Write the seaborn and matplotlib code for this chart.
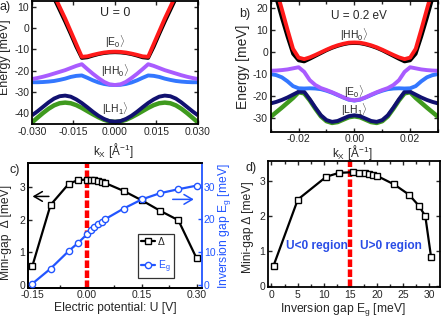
import matplotlib
matplotlib.use("Agg")
import matplotlib.pyplot as plt
import seaborn as sns
from matplotlib.lines import Line2D
from matplotlib.ticker import MultipleLocator

# ---- data ----
# band structure grid (1/Angstrom)
k = [-0.030, -0.028, -0.026, -0.024, -0.022, -0.020, -0.018, -0.016, -0.014, -0.012,
     -0.010, -0.008, -0.006, -0.004, -0.002, 0.000, 0.002, 0.004, 0.006, 0.008,
     0.010, 0.012, 0.014, 0.016, 0.018, 0.020, 0.022, 0.024, 0.026, 0.028, 0.030]

# a) U = 0
red_a = [39.0, 33.0, 27.0, 21.0, 15.5, 10.0, 4.5, -1.5, -7.5, -13.5, -13.3, -12.6, -12.0, -11.5, -11.2, -11.1,
         -11.2, -11.5, -12.0, -12.6, -13.3, -13.5, -7.5, -1.5, 4.5, 10.0, 15.5, 21.0, 27.0, 33.0, 39.0]
black_a = [38.0, 32.0, 26.0, 20.0, 14.0, 8.5, 3.0, -2.8, -8.8, -14.1, -13.8, -13.0, -12.3, -11.8, -11.5, -11.4,
           -11.5, -11.8, -12.3, -13.0, -13.8, -14.1, -8.8, -2.8, 3.0, 8.5, 14.0, 20.0, 26.0, 32.0, 38.0]
purple_a = [-24.0, -23.5, -22.9, -22.2, -21.4, -20.6, -19.8, -18.8, -17.8, -17.0, -19.3, -21.5, -23.5, -25.3, -26.5, -26.8,
            -26.5, -25.3, -23.5, -21.5, -19.3, -17.0, -17.8, -18.8, -19.8, -20.6, -21.4, -22.2, -22.9, -23.5, -24.0]
blue_a = [-25.5, -25.5, -25.4, -25.2, -24.9, -24.4, -23.8, -23.0, -22.5, -22.3, -23.4, -24.6, -25.6, -26.3, -26.7, -26.8,
          -26.7, -26.3, -25.6, -24.6, -23.4, -22.3, -22.5, -23.0, -23.8, -24.4, -24.9, -25.2, -25.4, -25.5, -25.5]
navy_a = [-41.1, -39.2, -37.1, -35.0, -33.2, -32.1, -31.8, -32.3, -33.6, -35.3, -37.3, -39.4, -41.3, -42.8, -43.8, -44.1,
          -43.8, -42.8, -41.3, -39.4, -37.3, -35.3, -33.6, -32.3, -31.8, -32.1, -33.2, -35.0, -37.1, -39.2, -41.1]
green_a = [-44.5, -42.2, -40.0, -38.0, -36.4, -35.4, -35.1, -35.4, -36.3, -37.6, -39.1, -40.6, -42.0, -43.2, -44.0, -44.2,
           -44.0, -43.2, -42.0, -40.6, -39.1, -37.6, -36.3, -35.4, -35.1, -35.4, -36.4, -38.0, -40.0, -42.2, -44.5]

# b) U = 0.2 eV
red_b = [37.0, 28.5, 19.5, 10.3, 1.5, -2.5, -3.2, -2.4, -1.3, -0.1, 1.1, 2.2, 3.1, 3.8, 4.3, 4.4,
         4.3, 3.8, 3.1, 2.2, 1.1, -0.1, -1.3, -2.4, -3.2, -2.5, 1.5, 10.3, 19.5, 28.5, 37.0]
black_b = [33.0, 24.5, 15.5, 7.0, -0.8, -3.8, -4.3, -3.1, -1.8, -0.5, 0.8, 1.9, 2.8, 3.5, 4.0, 4.1,
           4.0, 3.5, 2.8, 1.9, 0.8, -0.5, -1.8, -3.1, -4.3, -3.8, -0.8, 7.0, 15.5, 24.5, 33.0]
purple_b = [-8.5, -8.4, -8.2, -7.9, -7.4, -6.9, -9.0, -12.8, -15.0, -16.4, -17.3, -18.3, -19.4, -20.6, -21.6, -22.0,
            -21.6, -20.6, -19.4, -18.3, -17.3, -16.4, -15.0, -12.8, -9.0, -6.9, -7.4, -7.9, -8.2, -8.4, -8.5]
blue_b = [-10.0, -10.5, -11.5, -13.3, -15.5, -16.5, -16.6, -16.5, -16.6, -16.9, -17.6, -18.5, -19.6, -20.7, -21.7, -22.1,
          -21.7, -20.7, -19.6, -18.5, -17.6, -16.9, -16.6, -16.5, -16.6, -16.5, -15.5, -13.3, -11.5, -10.5, -10.0]
navy_b = [-23.4, -22.7, -21.8, -20.7, -19.4, -18.1, -18.1, -21.5, -25.3, -28.8, -31.0, -31.8, -31.4, -30.3, -29.2, -28.8,
          -29.2, -30.3, -31.4, -31.8, -31.0, -28.8, -25.3, -21.5, -18.1, -18.1, -19.4, -20.7, -21.8, -22.7, -23.4]
green_b = [-29.5, -27.4, -25.3, -23.1, -20.9, -18.3, -18.8, -22.0, -25.8, -29.3, -31.5, -32.3, -31.9, -30.8, -29.7, -29.3,
           -29.7, -30.8, -31.9, -32.3, -31.5, -29.3, -25.8, -22.0, -18.8, -18.3, -20.9, -23.1, -25.3, -27.4, -29.5]

# c) / d) mini-gap and inversion gap vs electric potential
U = [-0.15, -0.10, -0.05, -0.025, 0.0, 0.01, 0.02, 0.03, 0.04, 0.05, 0.10, 0.15, 0.20, 0.25, 0.30]
delta = [0.58, 2.46, 3.11, 3.22, 3.24, 3.23, 3.21, 3.19, 3.16, 3.13, 2.89, 2.60, 2.28, 1.99, 0.82]
Eg = [0.4, 5.0, 10.4, 12.8, 15.5, 16.7, 17.7, 18.5, 19.3, 20.1, 23.3, 26.1, 28.0, 29.2, 30.3]

c_ticks = [-0.15, 0.0, 0.15, 0.30]
c_ticklabels = ["-0.15", "0.00", "0.15", "0.30"]
a_ticks = [-0.030, -0.015, 0.0, 0.015, 0.030]
a_ticklabels = ["-0.030", "-0.015", "0.000", "0.015", "0.030"]
b_ticks = [-0.02, 0.0, 0.02]
b_ticklabels = ["-0.02", "0.00", "0.02"]

# ---- style ----
sns.set_style("ticks")
plt.rcParams["font.family"] = ["Liberation Sans", "DejaVu Sans"]
plt.rcParams["mathtext.fontset"] = "custom"
plt.rcParams["mathtext.rm"] = "Liberation Sans"
plt.rcParams["mathtext.it"] = "Liberation Sans:italic"
plt.rcParams["mathtext.fallback"] = "cm"
plt.rcParams["axes.unicode_minus"] = False

RED = "#ff1a1a"
PURPLE = "#a95cff"
BLUE = "#3377ff"
NAVY = "#111170"
GREEN = "#3f9a1e"
BLUE_C = "#2255ff"
TXT_BLUE = "#2a4de6"

KX_LABEL = r"k$_\mathregular{X}$ [Å$^{-1}$]"


def ket(name, idx):
    return r"$\mathregular{|%s_%s}\rangle$" % (name, idx)


def style(ax, top=True, right=True):
    for s in ax.spines.values():
        s.set_linewidth(1.3)
        s.set_color("black")
    ax.tick_params(direction="in", which="both", top=top, right=right,
                   labelsize=7.5, width=1, pad=2)
    ax.tick_params(which="major", length=3)
    ax.tick_params(which="minor", length=2)


fig = plt.figure(figsize=(4.43, 3.17), dpi=100)

ax_a = fig.add_axes([0.0722, 0.6088, 0.3747, 0.3880])
ax_b = fig.add_axes([0.6111, 0.5845, 0.3777, 0.4123])
ax_c = fig.add_axes([0.0639, 0.0924, 0.3914, 0.3924])
ax_d = fig.add_axes([0.6050, 0.0937, 0.3883, 0.3975])

# ---- a) ----
bands_a = [(green_a, GREEN, 3.2), (navy_a, NAVY, 2.8), (blue_a, BLUE, 2.8),
           (purple_a, PURPLE, 2.8), (black_a, "black", 2.6), (red_a, RED, 2.8)]
for vals, col, lw in bands_a:
    sns.lineplot(x=k, y=vals, ax=ax_a, color=col, lw=lw, sort=False,
                 errorbar=None, solid_joinstyle="round", solid_capstyle="butt")
ax_a.set_xlim(-0.030, 0.030)
ax_a.set_ylim(-45.2, 12.8)
ax_a.set_xticks(a_ticks)
ax_a.set_xticklabels(a_ticklabels)
ax_a.set_yticks([-40, -30, -20, -10, 0, 10])
style(ax_a)
ax_a.set_xlabel(KX_LABEL, fontsize=8.5)
ax_a.xaxis.set_label_coords(0.488, -0.138)
ax_a.set_ylabel("Energy [meV]", fontsize=9)
ax_a.yaxis.set_label_coords(-0.1235, 0.545)
ax_a.text(0.0, 7.2, "U = 0", ha="center", va="center", fontsize=9)
ax_a.text(0.0, -6.4, ket("E", "0"), ha="center", va="center", fontsize=7.5)
ax_a.text(0.0, -20.2, ket("HH", "0"), ha="center", va="center", fontsize=7.5)
ax_a.text(0.0, -38.1, ket("LH", "1"), ha="center", va="center", fontsize=7.5)

# ---- b) ----
bands_b = [(green_b, GREEN, 3.2), (navy_b, NAVY, 2.8), (blue_b, BLUE, 2.8),
           (purple_b, PURPLE, 2.8), (black_b, "black", 2.6), (red_b, RED, 2.8)]
for vals, col, lw in bands_b:
    sns.lineplot(x=k, y=vals, ax=ax_b, color=col, lw=lw, sort=False,
                 errorbar=None, solid_joinstyle="round", solid_capstyle="butt")
ax_b.set_xlim(-0.030, 0.030)
ax_b.set_ylim(-36.3, 23.3)
ax_b.set_xticks(b_ticks)
ax_b.set_xticklabels(b_ticklabels)
ax_b.xaxis.set_minor_locator(MultipleLocator(0.01))
ax_b.set_yticks([-30, -20, -10, 0, 10, 20])
style(ax_b)
ax_b.set_xlabel(KX_LABEL, fontsize=8.5)
ax_b.xaxis.set_label_coords(0.49, -0.086)
ax_b.set_ylabel("Energy [meV]", fontsize=10)
ax_b.yaxis.set_label_coords(-0.124, 0.497)
ax_b.text(0.0017, 16.5, "U = 0.2 eV", ha="center", va="center", fontsize=8.5)
ax_b.text(0.0, 7.9, ket("HH", "0"), ha="center", va="center", fontsize=7.5)
ax_b.text(0.0, -18.2, ket("E", "0"), ha="center", va="center", fontsize=7.5)
ax_b.text(0.0, -26.3, ket("LH", "1"), ha="center", va="center", fontsize=7.5)

# ---- c) ----
ax_c2 = ax_c.twinx()
ax_c.axvline(0.0, color="red", lw=3.2, ls=(0, (1.7, 0.55)), zorder=1, clip_on=False)
sns.lineplot(x=U, y=delta, ax=ax_c, color="black", lw=1.6, marker="s",
             markersize=4.5, markerfacecolor="white", markeredgecolor="black",
             markeredgewidth=1, errorbar=None, zorder=3)
sns.lineplot(x=U, y=Eg, ax=ax_c2, color=BLUE_C, lw=1.6, marker="o",
             markersize=4.5, markerfacecolor="white", markeredgecolor=BLUE_C,
             markeredgewidth=1, errorbar=None, zorder=3)
ax_c.set_xlim(-0.161, 0.314)
ax_c.set_ylim(-0.083, 3.737)
ax_c2.set_ylim(-0.82, 37.1)
ax_c.set_xticks(c_ticks)
ax_c.set_xticklabels(c_ticklabels)
ax_c.xaxis.set_minor_locator(MultipleLocator(0.075))
ax_c.set_yticks([0, 1, 2, 3])
ax_c2.set_yticks([0, 10, 20, 30])
style(ax_c, top=False, right=False)
style(ax_c2, top=False, right=True)
ax_c2.tick_params(axis="y", colors=BLUE_C, pad=1.5)
ax_c2.spines["right"].set_color(BLUE_C)
ax_c.spines["right"].set_visible(False)
ax_c.set_xlabel("Electric potential: U [V]", fontsize=8.7)
ax_c.xaxis.set_label_coords(0.5, -0.118)
ax_c.set_ylabel("Mini-gap  Δ [meV]", fontsize=8.7)
ax_c.yaxis.set_label_coords(-0.094, 0.444)
ax_c2.set_ylabel(r"Inversion gap E$_\mathregular{g}$ [meV]", fontsize=8.7, color=BLUE_C)
ax_c2.yaxis.set_label_coords(1.085, 0.496)
ax_c.annotate("", xy=(-0.157, 2.72), xytext=(-0.097, 2.72),
              arrowprops=dict(arrowstyle="->,head_length=0.6,head_width=0.35", color="black", lw=1.1))
ax_c.annotate("", xy=(0.300, 2.63), xytext=(0.227, 2.63),
              arrowprops=dict(arrowstyle="->,head_length=0.6,head_width=0.35", color=BLUE_C, lw=1.1))
handles = [Line2D([], [], color="black", lw=1.6, marker="s", markersize=4.5,
                  markerfacecolor="white", markeredgecolor="black"),
           Line2D([], [], color=BLUE_C, lw=1.6, marker="o", markersize=4.5,
                  markerfacecolor="white", markeredgecolor=BLUE_C)]
leg = ax_c2.legend(handles, ["Δ", r"E$_\mathregular{g}$"], loc="lower left",
                   bbox_to_anchor=(0.633, 0.078), fontsize=7.5, frameon=True,
                   fancybox=False, edgecolor="black", handlelength=1.3,
                   handletextpad=0.3, borderpad=0.3, labelspacing=1.1,
                   borderaxespad=0.0)
leg.get_frame().set_linewidth(0.9)
leg.get_texts()[1].set_color(BLUE_C)

# ---- d) ----
ax_d.axvline(15.0, color="red", lw=3.2, ls=(0, (1.7, 0.55)), zorder=1, clip_on=False)
sns.lineplot(x=Eg, y=delta, ax=ax_d, color="black", lw=1.6, marker="s",
             markersize=4.5, markerfacecolor="white", markeredgecolor="black",
             markeredgewidth=1, errorbar=None, sort=False, zorder=3)
ax_d.set_xlim(-0.66, 32.0)
ax_d.set_ylim(-0.04, 3.55)
ax_d.set_xticks([0, 5, 10, 15, 20, 25, 30])
ax_d.xaxis.set_minor_locator(MultipleLocator(2.5))
ax_d.set_yticks([0, 1, 2, 3])
style(ax_d)
ax_d.set_xlabel(r"Inversion gap E$_\mathregular{g}$ [meV]", fontsize=8.7)
ax_d.xaxis.set_label_coords(0.436, -0.106)
ax_d.set_ylabel("Mini-gap Δ [meV]", fontsize=8.7)
ax_d.yaxis.set_label_coords(-0.081, 0.475)
ax_d.text(8.6, 1.15, "U<0 region", color=TXT_BLUE, fontsize=8.6,
          fontweight="bold", ha="center", va="center")
ax_d.text(22.7, 1.15, "U>0 region", color=TXT_BLUE, fontsize=8.6,
          fontweight="bold", ha="center", va="center")

# panel letters
fig.text(0.0, 1 - 7 / 317, "a)", fontsize=9, va="center", ha="left")
fig.text(239 / 443, 1 - 14 / 317, "b)", fontsize=9, va="center", ha="left")
fig.text(10 / 443, 1 - 170 / 317, "c)", fontsize=9, va="center", ha="left")
fig.text(245 / 443, 1 - 168 / 317, "d)", fontsize=9, va="center", ha="left")

fig.savefig("out.png", dpi=100)
